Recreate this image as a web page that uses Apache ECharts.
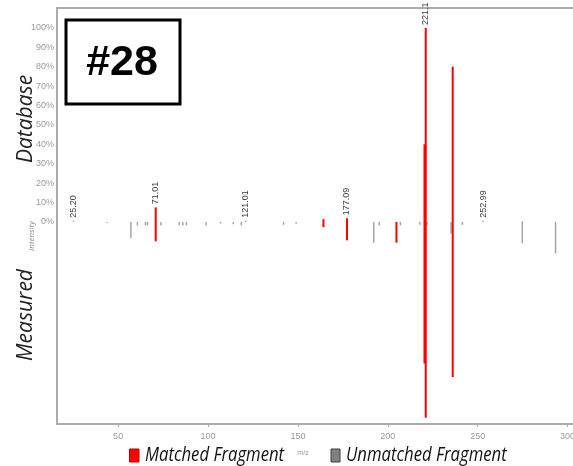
<!DOCTYPE html>
<html><head><meta charset="utf-8">
<script src="https://cdn.jsdelivr.net/npm/echarts@6/dist/echarts.min.js"></script>
<style>html,body{margin:0;padding:0;background:#fff}#c{width:573px;height:466px}</style>
</head><body><div id="c"></div>
<script>
// ---- data (m/z, relative intensity %) ----
const matchedMz       = [70.9, 164.2, 177.3, 204.8, 220.4, 221.1, 236.1];
const matchedDb       = [7.5,  1.4,   1.9,   0,     40,    100,   80];
const matchedMeasured = [10,   2.7,   9.5,   10.7,  73,    101,   80];

const unmatchedMz       = [25.2, 43.9, 57.1, 60.7, 65.2, 66.4, 73.8, 84.0, 86.0, 88.0, 98.9, 107.0, 114.0, 118.5, 121.0, 142.0, 149.0, 192.2, 195.2, 207.0, 217.8, 221.8, 235.2, 241.5, 253.0, 274.8, 293.3];
const unmatchedDb       = [0.6,  0,    0,    0,    0,    0,    0,    0,    0,    0,    0,    0,     0,     0,     0.6,   0,     0,     0,     0,     0,     0,     0,     0,     0,     0.6,   0.4,   0];
const unmatchedMeasured = [0,    0.6,  8.3,  1.8,  1.8,  1.8,  1.8,  1.8,  1.8,  1.8,  1.8,  0.8,   1.2,   1.8,   0,     1.5,   1.0,   10.8,  1.8,  1.8,   1.5,   1.5,   6.0,   1.5,   0,     11.0,  16.3];

const peakLabels = ['25.20', '71.01', '121.01', '177.09', '221.1', '252.99'];

const xTickValues = [50, 100, 150, 200, 250, 300];
const yTickValues = [0, 10, 20, 30, 40, 50, 60, 70, 80, 90, 100];

// ---- build series data ----
const matchedData = matchedMz.map((m, i) => [m, matchedDb[i], -matchedMeasured[i]]);
const unmatchedData = unmatchedMz.map((m, i) => [m, unmatchedDb[i], -unmatchedMeasured[i]]);
const allMz = matchedMz.concat(unmatchedMz);
const allDb = matchedDb.concat(unmatchedDb);
const labelData = peakLabels.map(t => {
  const m = parseFloat(t);
  let h = 0;
  allMz.forEach((mz, i) => { if (Math.abs(mz - m) <= 1.2 && allDb[i] > h) h = allDb[i]; });
  return [m, h];
});

function barRenderer(color, width) {
  return function (params, api) {
    const x = api.value(0);
    const p1 = api.coord([x, api.value(1)]);
    const p2 = api.coord([x, api.value(2)]);
    const h = Math.max(p2[1] - p1[1], 1);
    return { type: 'rect', shape: { x: p1[0] - width / 2, y: p1[1], width: width, height: h }, style: { fill: color } };
  };
}

const axisGray = '#ababab';
const chart = echarts.init(document.getElementById('c'), null, { renderer: 'canvas' });
chart.setOption({
  animation: false,
  backgroundColor: '#ffffff',
  grid: { left: 57, right: 0, top: 8, bottom: 42, outerBoundsMode: 'none', containLabel: false },
  xAxis: [{
    type: 'value', min: 16, max: 303, position: 'bottom',
    axisLine: { show: true, onZero: false, lineStyle: { color: axisGray, width: 2 } },
    axisTick: { show: true, length: 3, customValues: xTickValues, lineStyle: { color: axisGray } },
    axisLabel: { customValues: xTickValues, color: '#9a9a9a', fontSize: 9, margin: 8, fontFamily: "'Liberation Sans Narrow', 'Liberation Sans', sans-serif" },
    splitLine: { show: false }
  }, {
    type: 'value', min: 16, max: 303, position: 'top',
    axisLine: { show: true, onZero: false, lineStyle: { color: axisGray, width: 2 } },
    axisTick: { show: false }, axisLabel: { show: false }, splitLine: { show: false }
  }],
  yAxis: {
    type: 'value', min: -104.2, max: 110.3,
    axisLine: { show: true, onZero: false, lineStyle: { color: axisGray, width: 2 } },
    axisTick: { show: false },
    axisLabel: { customValues: yTickValues, formatter: v => v + '%', color: '#9a9a9a', fontSize: 9, margin: 3, fontFamily: "'Liberation Sans Narrow', 'Liberation Sans', sans-serif" },
    splitLine: { show: false }
  },
  series: [{
    name: 'Unmatched Fragment', type: 'custom', renderItem: barRenderer('#a6a6a6', 1.5),
    encode: { x: 0, y: [1, 2] }, data: unmatchedData, clip: false, z: 2
  }, {
    name: 'Matched Fragment', type: 'custom', renderItem: barRenderer('#ff0000', 2),
    encode: { x: 0, y: [1, 2] }, data: matchedData, clip: false, z: 3
  }, {
    name: 'Peak labels', type: 'custom', clip: false, z: 4,
    encode: { x: 0, y: 1 }, data: labelData,
    renderItem: function (params, api) {
      const p = api.coord([api.value(0), api.value(1)]);
      return {
        type: 'text', x: p[0], y: p[1] - 3, rotation: Math.PI / 2,
        style: { text: peakLabels[params.dataIndex], fill: '#3a3a3a', align: 'left', verticalAlign: 'middle',
          font: "9px 'Liberation Sans Narrow', 'Liberation Sans', sans-serif" }
      };
    }
  }],
  graphic: [
    { type: 'rect', shape: { x: 66, y: 20, width: 114, height: 84 }, style: { fill: '#ffffff', stroke: '#000000', lineWidth: 3 }, z: 100 },
    { type: 'text', x: 122, y: 63, z: 101, style: { text: '#28', font: "bold 43px 'Liberation Sans', Arial, sans-serif", fill: '#000', align: 'center', verticalAlign: 'middle' } },
    { type: 'text', x: 26, y: 119, rotation: Math.PI / 2, style: { text: 'Database', font: "italic 21px 'Open Sans', sans-serif", fill: '#222', align: 'center', verticalAlign: 'middle' } },
    { type: 'text', x: 26, y: 315, rotation: Math.PI / 2, style: { text: 'Measured', font: "italic 21px 'Open Sans', sans-serif", fill: '#222', align: 'center', verticalAlign: 'middle' } },
    { type: 'text', x: 32, y: 236, rotation: Math.PI / 2, style: { text: 'Intensity', font: "italic 8px 'Open Sans', sans-serif", fill: '#8a8a8a', align: 'center', verticalAlign: 'middle' } },
    { type: 'text', x: 303, y: 453, style: { text: 'm/z', font: "7px 'Liberation Sans', sans-serif", fill: '#9a9a9a', align: 'center', verticalAlign: 'middle' } },
    { type: 'rect', shape: { x: 129.5, y: 449, width: 9.5, height: 13 }, style: { fill: '#ff0000', stroke: '#c00000', lineWidth: 1 } },
    { type: 'text', x: 145, y: 455, scaleX: 0.835, style: { text: 'Matched Fragment', font: "italic 20px 'Open Sans', sans-serif", fill: '#111', align: 'left', verticalAlign: 'middle' } },
    { type: 'rect', shape: { x: 331, y: 449, width: 9, height: 13 }, style: { fill: '#808080', stroke: '#404040', lineWidth: 1 } },
    { type: 'text', x: 346, y: 455, scaleX: 0.835, style: { text: 'Unmatched Fragment', font: "italic 20px 'Open Sans', sans-serif", fill: '#111', align: 'left', verticalAlign: 'middle' } }
  ]
});
</script>
</body></html>
